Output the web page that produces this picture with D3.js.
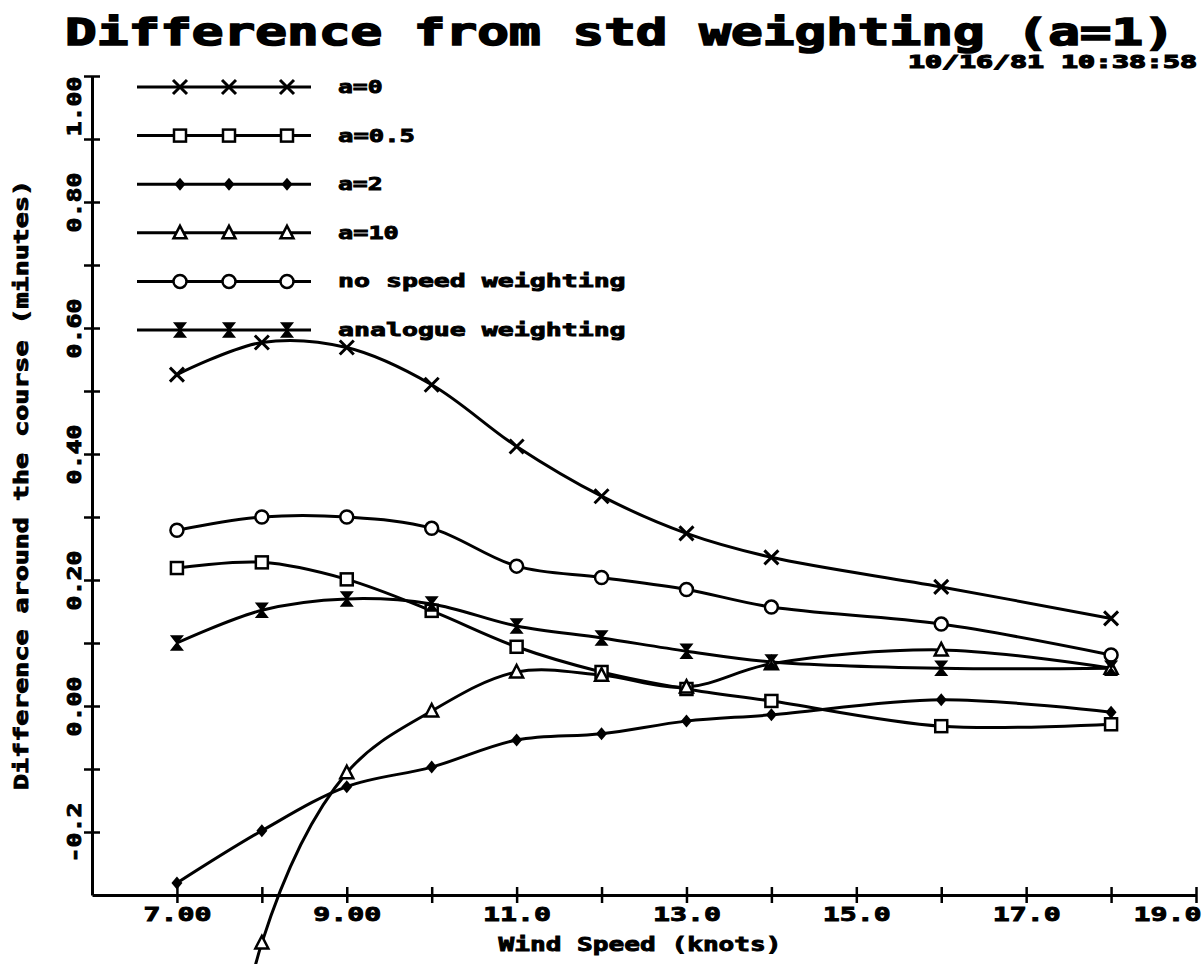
<!DOCTYPE html>
<html>
<head>
<meta charset="utf-8">
<script src="https://cdn.jsdelivr.net/npm/d3@7/dist/d3.min.js"></script>
<style>
  html, body { margin: 0; padding: 0; background: #fff; }
  svg { display: block; }
  text { font-family: "DejaVu Sans Mono", "Liberation Mono", monospace; font-weight: bold; fill: #000; stroke: #000; stroke-width: 0.9px; }
</style>
</head>
<body>
<script>
// Wind speeds (knots) at which each weighting scheme was evaluated
const windSpeed = [7, 8, 9, 10, 11, 12, 13, 14, 16, 18];

// Difference around the course (minutes) relative to standard weighting a=1
const a0       = [0.526, 0.577, 0.569, 0.510, 0.412, 0.333, 0.274, 0.236, 0.189, 0.139];
const a05      = [0.219, 0.228, 0.201, 0.151, 0.094, 0.054, 0.027, 0.008, -0.032, -0.029];
const a2       = [-0.281, -0.198, -0.128, -0.097, -0.054, -0.044, -0.024, -0.014, 0.010, -0.010];
const a10      = [-1.24, -0.376, -0.106, -0.008, 0.054, 0.049, 0.030, 0.067, 0.089, 0.060];
const noSpeed  = [0.279, 0.300, 0.300, 0.282, 0.222, 0.204, 0.185, 0.157, 0.130, 0.081];
const analogue = [0.100, 0.152, 0.170, 0.162, 0.127, 0.108, 0.087, 0.070, 0.060, 0.060];

const seriesNames   = ["a=0", "a=0.5", "a=2", "a=10", "no speed weighting", "analogue weighting"];
const seriesMarkers = ["cross", "square", "diamond", "triangle", "circle", "hourglass"];
const seriesValues  = [a0, a05, a2, a10, noSpeed, analogue];

// Axis ticks and labels
const xMinorTicks  = [7, 8, 9, 10, 11, 12, 13, 14, 15, 16, 17, 18, 19];
const xLabelTicks  = [7, 9, 11, 13, 15, 17, 19];
const xTickLabels  = ["7.00", "9.00", "11.0", "13.0", "15.0", "17.0", "19.0"];
const yMinorTicks  = [-0.2, -0.1, 0, 0.1, 0.2, 0.3, 0.4, 0.5, 0.6, 0.7, 0.8, 0.9];
const yLabelTicks  = [-0.2, 0, 0.2, 0.4, 0.6, 0.8, 1.0];
const yTickLabels  = ["-0.2", "0.00", "0.20", "0.40", "0.60", "0.80", "1.00"];

const titleText = "Difference from std weighting (a=1)";
const stampText = "10/16/81  10:38:58";
const xTitle = "Wind Speed (knots)";
const yTitle = "Difference around the course (minutes)";

const W = 1202, H = 964;
const svg = d3.select("body").append("svg").attr("width", W).attr("height", H);

const x = d3.scaleLinear().domain([6, 19]).range([92, 1196]);
const y = d3.scaleLinear().domain([-0.3, 1.0]).range([895, 76]);

// Plotter-style lettering: fixed pitch, glyphs stretched to the cell width
const PITCH = 16.2;
function fit(sel, len) {
  return sel.attr("textLength", len).attr("lengthAdjust", "spacingAndGlyphs");
}

// Title and time stamp
fit(svg.append("text").attr("x", 620).attr("y", 45).attr("text-anchor", "middle")
  .style("font-size", "38px").style("stroke-width", "1.6px").text(titleText), 1110);
fit(svg.append("text").attr("x", 1197).attr("y", 68).attr("text-anchor", "end")
  .style("font-size", "17px").style("stroke-width", "1.2px").text(stampText), 289);

// X axis: ticks every knot crossing the line, labelled every 2 knots
const xAxis = svg.append("g").attr("transform", `translate(0,${y(-0.3)})`)
  .call(d3.axisBottom(x).tickValues(xMinorTicks).tickSizeOuter(0)
    .tickFormat(d => { const i = xLabelTicks.indexOf(d); return i >= 0 ? xTickLabels[i] : ""; }));
xAxis.select(".domain").attr("stroke", "#000").attr("stroke-width", 3);
xAxis.selectAll(".tick line").attr("y1", -8).attr("y2", 8).attr("stroke-width", 2.5);
xAxis.selectAll(".tick text").attr("y", 12).attr("dy", "0.71em")
  .style("font-size", "20px")
  .attr("text-anchor", d => d === 19 ? "end" : "middle")
  .attr("x", d => d === 19 ? 5 : 0)
  .each(function (d) { if (this.textContent) fit(d3.select(this), 68); });

// Y axis: ticks every 0.1, rotated labels
const yAxis = svg.append("g").attr("transform", `translate(${x(6)},0)`)
  .call(d3.axisLeft(y).tickValues(yMinorTicks.concat([1.0])).tickSizeOuter(0)
    .tickFormat(d => { const i = yLabelTicks.findIndex(v => Math.abs(v - d) < 1e-9); return i >= 0 ? yTickLabels[i] : ""; }));
yAxis.select(".domain").attr("stroke", "#000").attr("stroke-width", 3);
yAxis.selectAll(".tick line").attr("x1", -8).attr("x2", 8).attr("stroke-width", 2.5);
yAxis.selectAll(".tick text")
  .attr("transform", "rotate(-90)")
  .attr("x", 0).attr("y", -11).attr("dy", 0)
  .attr("text-anchor", d => Math.abs(d - 1.0) < 1e-9 ? "end" : "middle")
  .style("font-size", "19px")
  .each(function (d) { if (this.textContent) fit(d3.select(this), 60); });

// Axis titles
fit(svg.append("text").attr("x", 640).attr("y", 951).attr("text-anchor", "middle")
  .style("font-size", "19px").text(xTitle), 283);
fit(svg.append("text").attr("transform", "translate(28,485) rotate(-90)").attr("text-anchor", "middle")
  .style("font-size", "19px").text(yTitle), 610);

// Marker shapes
function drawMarker(g, type, cx, cy) {
  const m = g.append("g").attr("transform", `translate(${cx},${cy})`);
  if (type === "cross") {
    m.append("path").attr("d", "M-7,-7L7,7M-7,7L7,-7").attr("stroke", "#000").attr("stroke-width", 3).attr("fill", "none");
  } else if (type === "square") {
    m.append("rect").attr("x", -6).attr("y", -6).attr("width", 12).attr("height", 12)
      .attr("fill", "#fff").attr("stroke", "#000").attr("stroke-width", 2.5);
  } else if (type === "diamond") {
    m.append("path").attr("d", "M0,-6.5L5.5,0L0,6.5L-5.5,0Z").attr("fill", "#000");
  } else if (type === "triangle") {
    m.append("path").attr("d", "M0,-7L6.5,5.5L-6.5,5.5Z").attr("fill", "#fff").attr("stroke", "#000").attr("stroke-width", 2.5);
  } else if (type === "circle") {
    m.append("circle").attr("r", 6.5).attr("fill", "#fff").attr("stroke", "#000").attr("stroke-width", 2.5);
  } else if (type === "hourglass") {
    m.append("path").attr("d", "M-5.5,-7H5.5L-5.5,7H5.5Z").attr("fill", "#000").attr("stroke", "#000").attr("stroke-width", 1.5);
  }
}

// Smoothed series curves
const line = d3.line().x(d => x(d[0])).y(d => y(d[1])).curve(d3.curveCatmullRom.alpha(0.5));
const plot = svg.append("g");
seriesValues.forEach(vals => {
  const pts = windSpeed.map((w, i) => [w, vals[i]]);
  plot.append("path").attr("d", line(pts)).attr("fill", "none")
    .attr("stroke", "#000").attr("stroke-width", 3).attr("stroke-linejoin", "round");
});
seriesValues.forEach((vals, si) => {
  windSpeed.forEach((w, i) => drawMarker(plot, seriesMarkers[si], x(w), y(vals[i])));
});

// Legend
const legend = svg.append("g");
seriesNames.forEach((name, i) => {
  const ly = 87 + i * 48.6;
  legend.append("line").attr("x1", 137).attr("x2", 311).attr("y1", ly).attr("y2", ly)
    .attr("stroke", "#000").attr("stroke-width", 3);
  [180, 229, 287].forEach(mx => drawMarker(legend, seriesMarkers[i], mx, ly));
  fit(legend.append("text").attr("x", 338).attr("y", ly + 6)
    .style("font-size", "18px").text(name), name.length * PITCH - 4);
});
</script>
</body>
</html>
